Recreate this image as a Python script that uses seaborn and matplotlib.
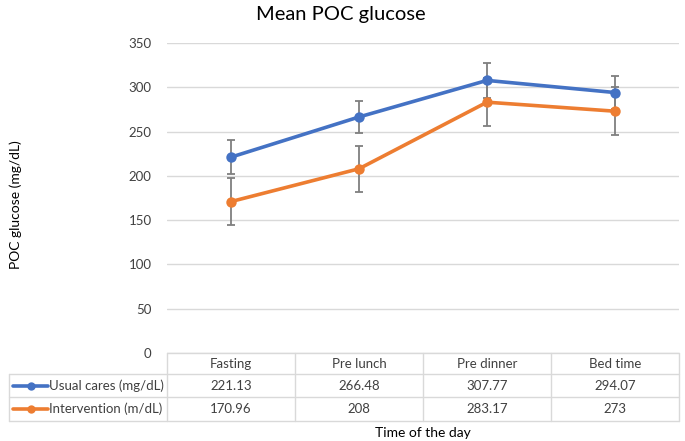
import pandas as pd
import seaborn as sns
import matplotlib.pyplot as plt
from matplotlib.lines import Line2D

# data
categories = ['Fasting', 'Pre lunch', 'Pre dinner', 'Bed time']
usual = [221.13, 266.48, 307.77, 294.07]
intervention = [170.96, 208, 283.17, 273]
usual_err = [19.5, 18.5, 20, 19]
intervention_err = [26.5, 26, 27, 27]
usual_text = ['221.13', '266.48', '307.77', '294.07']
intervention_text = ['170.96', '208', '283.17', '273']
series_names = ['Usual cares (mg/dL)', 'Intervention (m/dL)']
yticks = [0, 50, 100, 150, 200, 250, 300, 350]

blue = '#4472C4'
orange = '#ED7D31'
grid_c = '#D9D9D9'
txt_c = '#404040'

sns.set_style('white')
plt.rcParams['font.family'] = ['Lato', 'DejaVu Sans']

df = pd.DataFrame({
    'time': categories * 2,
    'pos': list(range(len(categories))) * 2,
    'glucose': usual + intervention,
    'group': [series_names[0]] * 4 + [series_names[1]] * 4,
})

fig = plt.figure(figsize=(6.85, 4.41), dpi=100)
ax = fig.add_axes([167 / 685, 1 - 353 / 441, 512 / 685, 310 / 441])

# error bars first
pos = list(range(len(categories)))
ax.errorbar(pos, usual, yerr=usual_err, fmt='none', ecolor='#7F7F7F',
            elinewidth=1.3, capsize=3, capthick=1.3, zorder=3)
ax.errorbar(pos, intervention, yerr=intervention_err, fmt='none', ecolor='#7F7F7F',
            elinewidth=1.3, capsize=3, capthick=1.3, zorder=3)

sns.lineplot(data=df, x='pos', y='glucose', hue='group', palette=[blue, orange],
             marker='o', markersize=7.5, markeredgewidth=0, linewidth=2.6,
             legend=False, ax=ax, zorder=4)

ax.set_xlim(-0.5, 3.5)
ax.set_ylim(0, 350)
ax.set_yticks(yticks)
ax.set_xticks([])
ax.tick_params(axis='y', length=0, pad=11, labelsize=9.5, labelcolor=txt_c)
ax.yaxis.grid(True, color=grid_c, linewidth=1)
for s in ax.spines.values():
    s.set_visible(False)
ax.set_xlabel('')
ax.set_ylabel('POC glucose (mg/dL)', fontsize=10, color='black', labelpad=0)
ax.yaxis.set_label_coords(-0.283, 0.48)

fig.text(0.497, 0.967, 'Mean POC glucose', ha='center', va='center', fontsize=14.5, color='black')

# data table under the axis
tr = ax.get_xaxis_transform()
def ay(px):
    return (353 - px) / 310

left = -0.5 + (9 - 167) / 128
rows_y = [ay(353), ay(374), ay(397), ay(421)]
kw = dict(transform=tr, color=grid_c, linewidth=1, clip_on=False)
ax.add_line(Line2D([-0.5, 3.5], [rows_y[0]] * 2, **kw))
for yy in rows_y[1:]:
    ax.add_line(Line2D([left, 3.5], [yy] * 2, **kw))
for xx in [-0.5, 0.5, 1.5, 2.5, 3.5]:
    ax.add_line(Line2D([xx, xx], [rows_y[0], rows_y[3]], **kw))
ax.add_line(Line2D([left, left], [rows_y[1], rows_y[3]], **kw))

tkw = dict(transform=tr, ha='center', va='center', fontsize=9.5, color=txt_c, clip_on=False)
for i, c in enumerate(categories):
    ax.text(i, ay(364), c, **tkw)
    ax.text(i, ay(385.5), usual_text[i], **tkw)
    ax.text(i, ay(409), intervention_text[i], **tkw)

for name, col, yc in [(series_names[0], blue, ay(385.5)), (series_names[1], orange, ay(409))]:
    x0 = -0.5 + (13 - 167) / 128
    x1 = -0.5 + (48 - 167) / 128
    ax.add_line(Line2D([x0, x1], [yc, yc], transform=tr, color=col, linewidth=2.6, clip_on=False))
    ax.add_line(Line2D([(x0 + x1) / 2], [yc], transform=tr, color=col, marker='o',
                       markersize=6, markeredgewidth=0, clip_on=False))
    ax.text(-0.5 + (49 - 167) / 128, yc, name, transform=tr, ha='left', va='center',
            fontsize=9.5, color=txt_c, clip_on=False)

ax.text(1.5, ay(433), 'Time of the day', transform=tr, ha='center', va='center',
        fontsize=10, color='black', clip_on=False)

fig.savefig('out.png', dpi=100)
